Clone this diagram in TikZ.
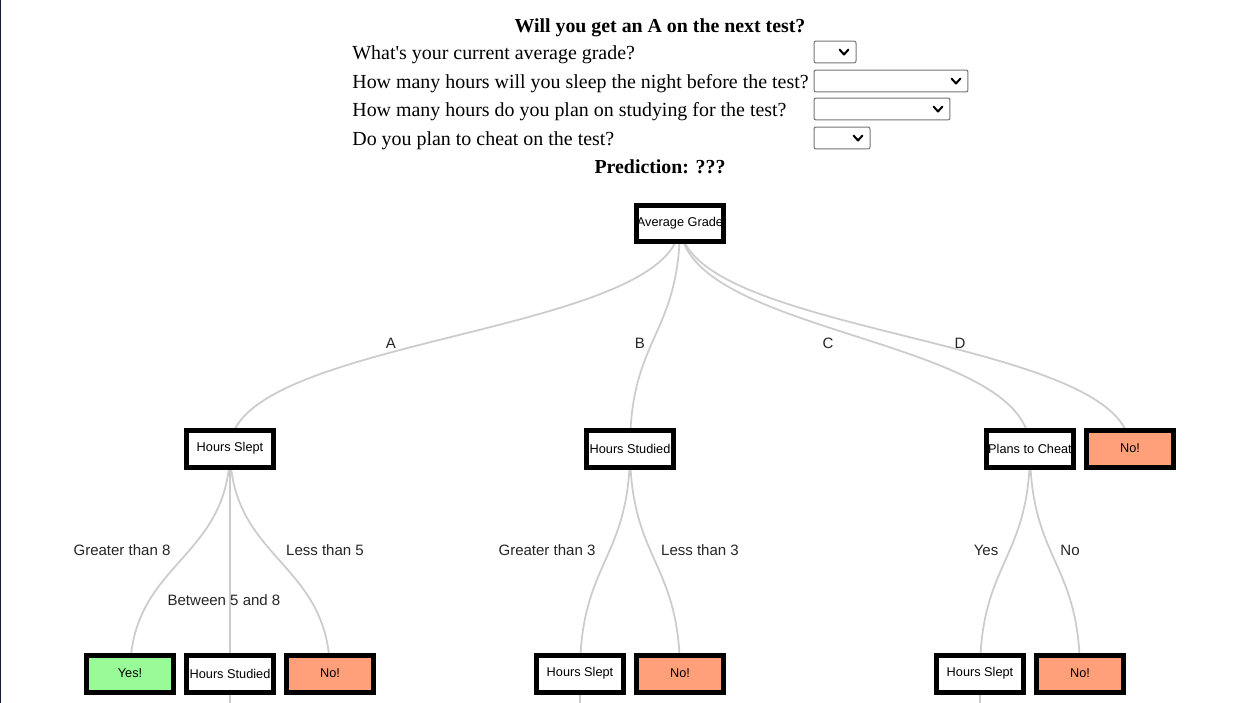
\documentclass[tikz,border=0pt]{standalone}
\usepackage{fontspec}
\setmainfont{Liberation Serif}
\newfontfamily\arialfont{Liberation Sans}
\usetikzlibrary{calc,backgrounds}
\definecolor{yesgreen}{HTML}{98FB98}
\definecolor{nosalmon}{HTML}{FFA07A}
\definecolor{linkgray}{HTML}{CCCCCC}
\definecolor{selgray}{HTML}{767676}
\definecolor{leftbar}{HTML}{161A35}

\begin{document}
\begin{tikzpicture}[x=0.02cm,y=-0.02cm]
	\tikzset{box/.style = {draw=black,line width=0.1cm,fill=white,minimum width=1.74cm,%
	    minimum height=0.74cm,inner sep=0pt,font=\arialfont\fontsize{7.25}{8.5}\selectfont}}
	\tikzset{yes/.style = {box,fill=yesgreen}}
	\tikzset{no/.style = {box,fill=nosalmon}}
	\tikzset{lbl/.style = {inner sep=0pt,text=black!85,font=\arialfont\fontsize{8.55}{10}\selectfont}}
	\tikzset{link/.style = {draw=linkgray,line width=0.035cm,to path={let \p1=(\tikztostart),%
	    \p2=(\tikztotarget), \p3=($(\p1)!0.5!(\p2)$) in .. controls (\x1,\y3) and (\x2,\y3) .. (\p2)}}}
	\tikzset{question/.style = {anchor=base west,inner sep=0pt,font=\fontsize{11.35}{13}\selectfont}}
	\tikzset{heading/.style = {anchor=base,inner sep=0pt,font=\bfseries\fontsize{11.3}{13}\selectfont}}
	\tikzset{select/.style = {draw=selgray,line width=0.02cm,rounded corners=0.04cm,minimum height=0.44cm,inner sep=0pt}}
	\tikzset{chev/.style = {line width=0.04cm,line cap=round,line join=round}}

	\useasboundingbox (0,0) rectangle (1258,703);

	% form
	\node[heading] (title) at (660,32) {Will you get an A on the next test?};
	\node[question] (q1) at (352,59) {What\textquotesingle s your current average grade?};
	\node[question] (q2) at (352,88) {How many hours will you sleep the night before the test?};
	\node[question] (q3) at (352,116) {How many hours do you plan on studying for the test?};
	\node[question] (q4) at (352,145) {Do you plan to cheat on the test?};
	\node[heading] (pred) at (660,173) {Prediction: ???};
	\node[select,minimum width=0.84cm] (sel1) at (835,52) {};
	\node[select,minimum width=3.08cm] (sel2) at (891,81) {};
	\node[select,minimum width=2.72cm] (sel3) at (882,109) {};
	\node[select,minimum width=1.12cm] (sel4) at (842,138) {};
	\foreach \s in {sel1,sel2,sel3,sel4}
	    \draw[chev] ($(\s.east)+(-17,-2.5)$) -- ++(4.5,5) -- ++(4.5,-5);

	% tree nodes
	\node[box] (grade) at (680,223.5) {Average Grade};
	\node[box] (slept1) at (230,448.5) {Hours Slept};
	\node[box] (studied1) at (630,448.5) {Hours Studied};
	\node[box] (cheat) at (1030,448.5) {Plans to Cheat};
	\node[no] (no1) at (1130,448.5) {No!};
	\node[yes] (yes1) at (130,673.5) {Yes!};
	\node[box] (studied2) at (230,673.5) {Hours Studied};
	\node[no] (no2) at (330,673.5) {No!};
	\node[box] (slept2) at (580,673.5) {Hours Slept};
	\node[no] (no3) at (680,673.5) {No!};
	\node[box] (slept3) at (980,673.5) {Hours Slept};
	\node[no] (no4) at (1080,673.5) {No!};
	\coordinate (stub1) at (230,705);
	\coordinate (stub2) at (580,705);
	\coordinate (stub3) at (980,705);

	% edge labels
	\node[lbl] (la) at (391,343.5) {A};
	\node[lbl] (lb) at (640,343.5) {B};
	\node[lbl] (lc) at (828,343.5) {C};
	\node[lbl] (ld) at (960,343.5) {D};
	\node[lbl] (lgt8) at (122,550.5) {Greater than 8};
	\node[lbl] (lmid) at (224,600.5) {Between 5 and 8};
	\node[lbl] (llt5) at (325,550.5) {Less than 5};
	\node[lbl] (lgt3) at (547,550.5) {Greater than 3};
	\node[lbl] (llt3) at (700,550.5) {Less than 3};
	\node[lbl] (lyes) at (986,550.5) {Yes};
	\node[lbl] (lno) at (1070,550.5) {No};

	% edges
	\begin{scope}[on background layer]
	\fill[white] (0,0) rectangle (1258,703);
	\fill[leftbar] (0,0) rectangle (1.5,703);
	\draw[link] (grade.center) to (slept1.center);
	\draw[link] (grade.center) to (studied1.center);
	\draw[link] (grade.center) to (cheat.center);
	\draw[link] (grade.center) to (no1.center);
	\draw[link] (slept1.center) to (yes1.center);
	\draw[link] (slept1.center) to (studied2.center);
	\draw[link] (slept1.center) to (no2.center);
	\draw[link] (studied1.center) to (slept2.center);
	\draw[link] (studied1.center) to (no3.center);
	\draw[link] (cheat.center) to (slept3.center);
	\draw[link] (cheat.center) to (no4.center);
	\draw[link] (studied2.center) -- (stub1);
	\draw[link] (slept2.center) -- (stub2);
	\draw[link] (slept3.center) -- (stub3);
	\end{scope}
\end{tikzpicture}
\end{document}
